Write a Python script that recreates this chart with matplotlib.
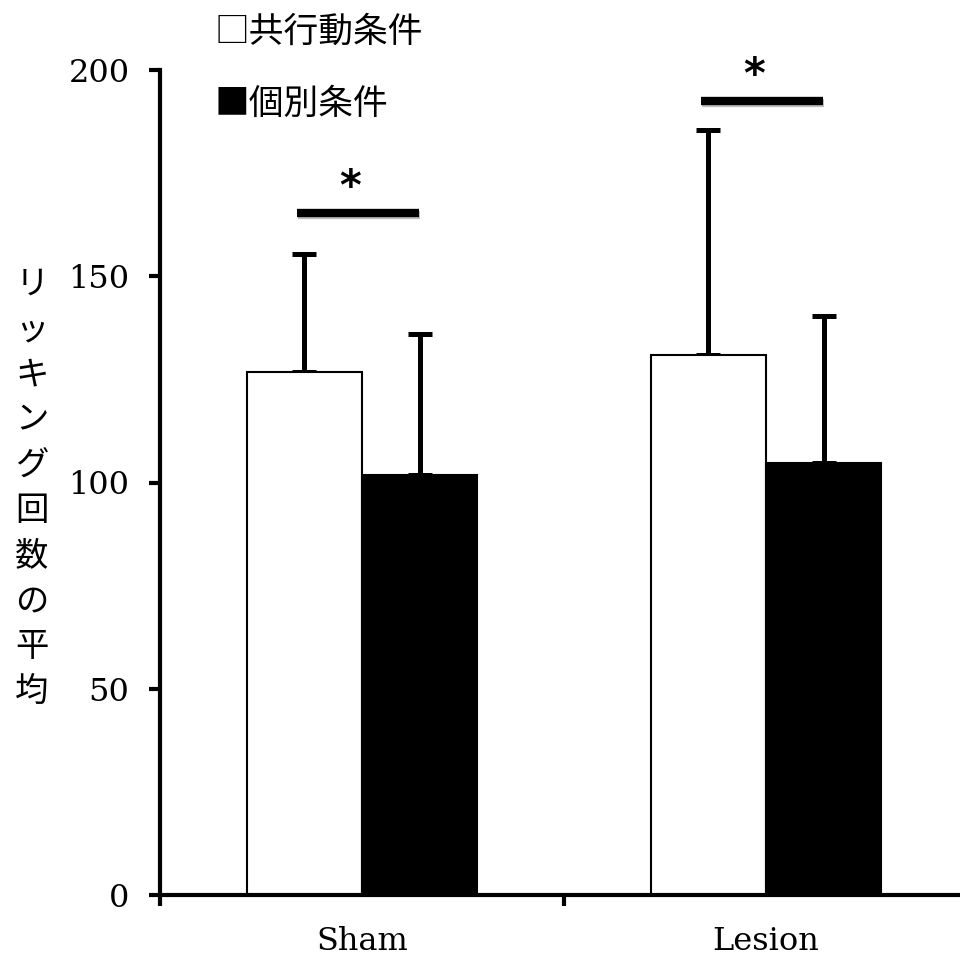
import matplotlib
matplotlib.use("Agg")
import matplotlib.pyplot as plt
import matplotlib.patheffects as pe
import numpy as np

# data
groups = ["Sham", "Lesion"]
conditions = ["共行動条件", "個別条件"]
joint_mean = [126.8, 130.8]
joint_err = [28.6, 54.7]
solo_mean = [101.8, 104.8]
solo_err = [34.2, 35.6]
sig_y = [165.3, 192.4]
y_ticks = [0, 50, 100, 150, 200]
y_label = "リッキング回数の平均"

CJK = ["Noto Sans CJK JP", "DejaVu Sans"]
SERIF = "DejaVu Serif"

fig = plt.figure(figsize=(9.6, 9.6), dpi=100)
ax = fig.add_axes([160 / 960, 65 / 960, 808 / 960, 825 / 960])

x = np.arange(len(groups))
w = 0.285

ax.bar(x - w / 2, joint_mean, w, color="white", edgecolor="black", linewidth=1.5, zorder=2)
ax.bar(x + w / 2, solo_mean, w, color="black", edgecolor="black", linewidth=1.5, zorder=2)

# upper-only error bars
for xs, m, e in [(x - w / 2, joint_mean, joint_err), (x + w / 2, solo_mean, solo_err)]:
    ax.errorbar(xs, m, yerr=[np.zeros(len(e)), e], fmt="none", ecolor="black",
                elinewidth=3.6, capsize=8.5, capthick=3.6, zorder=1)

# significance bars + asterisks
shadow = [pe.SimpleLineShadow(offset=(0.8, -1.2), shadow_color="gray", alpha=0.5), pe.Normal()]
for xi, yi in zip(x, sig_y):
    ax.plot([xi - 0.16, xi + 0.14], [yi, yi], color="black", lw=6, solid_capstyle="butt",
            path_effects=shadow, zorder=3)
    ax.text(xi - 0.03, yi + 1.0, "*", ha="center", va="bottom", fontsize=30,
            fontweight="bold", family="DejaVu Sans")

ax.set_xlim(-0.5, 1.5)
ax.set_ylim(0, 200)
ax.set_yticks(y_ticks)
ax.set_yticklabels([str(v) for v in y_ticks], fontsize=23, family=SERIF)
ax.set_xticks([-0.5, 0.5])
ax.set_xticklabels([])
ax.set_xticks(x, minor=True)
ax.set_xticklabels(groups, minor=True, fontsize=23, family=SERIF)
ax.tick_params(axis="x", which="minor", length=0, pad=22)
ax.tick_params(axis="both", which="major", width=3, length=8, direction="out")
ax.tick_params(axis="y", pad=14)

for s in ["top", "right"]:
    ax.spines[s].set_visible(False)
ax.spines["left"].set_linewidth(3)
ax.spines["bottom"].set_visible(False)
# x axis line runs off the right edge of the picture
ax.plot([0, 1.05], [0, 0], transform=ax.transAxes, color="black", lw=3,
        clip_on=False, solid_capstyle="butt", zorder=4)

# legend as plain text at the top
fig.text(215 / 960, 1 - 32 / 960, "□" + conditions[0], ha="left", va="center",
         fontsize=25, family=CJK)
fig.text(215 / 960, 1 - 104 / 960, "■" + conditions[1], ha="left", va="center",
         fontsize=25, family=CJK)

# vertical y label, one character per line
fig.text(32 / 960, 1 - 488 / 960, "\n".join(y_label), ha="center", va="center",
         fontsize=24, family=CJK, linespacing=1.38)

fig.savefig("out.png", dpi=100)
